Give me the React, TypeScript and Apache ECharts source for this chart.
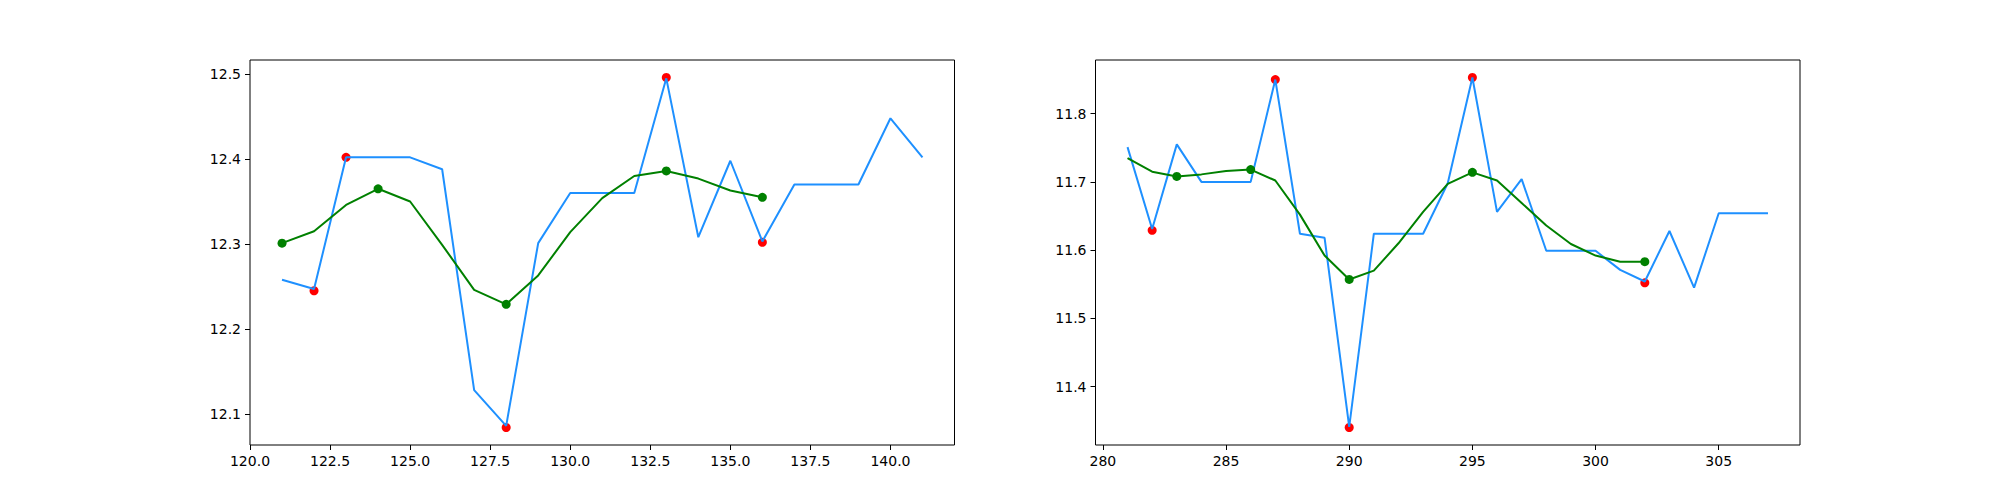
import React, { useEffect, useRef } from "react";
import * as echarts from "echarts";

// left panel
const leftX = [121, 122, 123, 124, 125, 126, 127, 128, 129, 130, 131, 132, 133, 134, 135, 136, 137, 138, 139, 140, 141];
const leftBlue = [12.258, 12.247, 12.402, 12.402, 12.402, 12.388, 12.128, 12.086, 12.301, 12.36, 12.36, 12.36, 12.495, 12.308, 12.398, 12.303, 12.37, 12.37, 12.37, 12.448, 12.402];
const leftGreen = [12.301, 12.315, 12.346, 12.365, 12.35, 12.299, 12.246, 12.229, 12.263, 12.314, 12.354, 12.38, 12.386, 12.377, 12.363, 12.355];
const leftRedX = [122, 123, 128, 133, 136];
const leftRedY = [12.245, 12.402, 12.084, 12.496, 12.302];
const leftDotX = [121, 124, 128, 133, 136];
const leftDotY = [12.301, 12.365, 12.229, 12.386, 12.355];
const leftXTicks = [120, 122.5, 125, 127.5, 130, 132.5, 135, 137.5, 140];
const leftYTicks = [12.1, 12.2, 12.3, 12.4, 12.5];

// right panel
const rightX = [281, 282, 283, 284, 285, 286, 287, 288, 289, 290, 291, 292, 293, 294, 295, 296, 297, 298, 299, 300, 301, 302, 303, 304, 305, 306, 307];
const rightBlue = [11.751, 11.631, 11.755, 11.7, 11.7, 11.7, 11.85, 11.624, 11.618, 11.341, 11.624, 11.624, 11.624, 11.698, 11.853, 11.656, 11.704, 11.599, 11.599, 11.599, 11.571, 11.554, 11.628, 11.545, 11.654, 11.654, 11.654];
const rightGreen = [11.735, 11.715, 11.708, 11.711, 11.716, 11.718, 11.702, 11.652, 11.592, 11.557, 11.57, 11.61, 11.656, 11.697, 11.714, 11.702, 11.669, 11.636, 11.609, 11.592, 11.583, 11.583];
const rightRedX = [282, 287, 290, 295, 302];
const rightRedY = [11.629, 11.85, 11.34, 11.853, 11.552];
const rightDotX = [283, 286, 290, 295, 302];
const rightDotY = [11.708, 11.718, 11.557, 11.714, 11.583];
const rightXTicks = [280, 285, 290, 295, 300, 305];
const rightYTicks = [11.4, 11.5, 11.6, 11.7, 11.8];

const FONT = "DejaVu Sans";

// matplotlib-style 5% padding around the data
const pad = (vals: number[]) => {
  const lo = Math.min(...vals);
  const hi = Math.max(...vals);
  const m = (hi - lo) * 0.05;
  return [lo - m, hi + m];
};

const zip = (xs: number[], ys: number[]) => ys.map((y, i) => [xs[i], y]);

const App: React.FC = () => {
  const chartRef = useRef<HTMLDivElement>(null);

  useEffect(() => {
    document.body.style.margin = "0";
    const chartDom = chartRef.current;
    if (!chartDom) return;
    const myChart = echarts.init(chartDom, null, { renderer: "svg" });

    const [lx0, lx1] = pad(leftX);
    const [ly0, ly1] = pad([...leftBlue, ...leftGreen, ...leftRedY, ...leftDotY]);
    const [rx0, rx1] = pad(rightX);
    const [ry0, ry1] = pad([...rightBlue, ...rightGreen, ...rightRedY, ...rightDotY]);

    const xAxisFor = (gridIndex: number, min: number, max: number, ticks: number[], digits: number) => ({
      type: "value" as const,
      gridIndex,
      min,
      max,
      axisLine: { show: false },
      splitLine: { show: false },
      axisTick: {
        show: true,
        inside: false,
        length: 5,
        customValues: ticks,
        lineStyle: { color: "#000", width: 1 },
      },
      axisLabel: {
        customValues: ticks,
        margin: 9,
        color: "#000",
        fontFamily: FONT,
        fontSize: 14,
        formatter: (v: number) => v.toFixed(digits),
      },
    });

    const yAxisFor = (gridIndex: number, min: number, max: number, ticks: number[]) => ({
      type: "value" as const,
      gridIndex,
      min,
      max,
      axisLine: { show: false },
      splitLine: { show: false },
      axisTick: {
        show: true,
        inside: false,
        length: 5,
        customValues: ticks,
        lineStyle: { color: "#000", width: 1 },
      },
      axisLabel: {
        customValues: ticks,
        margin: 9,
        color: "#000",
        fontFamily: FONT,
        fontSize: 14,
        formatter: (v: number) => v.toFixed(1),
      },
    });

    const lineSeries = (idx: number, data: number[][], color: string, z: number) => ({
      type: "line" as const,
      xAxisIndex: idx,
      yAxisIndex: idx,
      data,
      showSymbol: false,
      z,
      lineStyle: { color, width: 2 },
    });

    const dotSeries = (idx: number, data: number[][], color: string, z: number) => ({
      type: "scatter" as const,
      xAxisIndex: idx,
      yAxisIndex: idx,
      data,
      symbolSize: 9,
      z,
      itemStyle: { color, opacity: 1 },
    });

    const option: echarts.EChartsOption = {
      animation: false,
      textStyle: { fontFamily: FONT },
      grid: [
        { left: 250, top: 60, width: 704.5, height: 385, show: true, borderColor: "#000", borderWidth: 1, backgroundColor: "transparent" },
        { left: 1095.5, top: 60, width: 704.5, height: 385, show: true, borderColor: "#000", borderWidth: 1, backgroundColor: "transparent" },
      ],
      xAxis: [
        xAxisFor(0, lx0, lx1, leftXTicks, 1),
        xAxisFor(1, rx0, rx1, rightXTicks, 0),
      ],
      yAxis: [
        yAxisFor(0, ly0, ly1, leftYTicks),
        yAxisFor(1, ry0, ry1, rightYTicks),
      ],
      series: [
        dotSeries(0, zip(leftRedX, leftRedY), "#ff0000", 2),
        lineSeries(0, zip(leftX, leftBlue), "#1e90ff", 3),
        lineSeries(0, zip(leftX, leftGreen), "#008000", 4),
        dotSeries(0, zip(leftDotX, leftDotY), "#008000", 5),
        dotSeries(1, zip(rightRedX, rightRedY), "#ff0000", 2),
        lineSeries(1, zip(rightX, rightBlue), "#1e90ff", 3),
        lineSeries(1, zip(rightX, rightGreen), "#008000", 4),
        dotSeries(1, zip(rightDotX, rightDotY), "#008000", 5),
      ],
    };

    myChart.setOption(option);

    return () => {
      myChart.dispose();
    };
  }, []);

  return <div ref={chartRef} style={{ width: "2000px", height: "500px" }} />;
};

export default App;
